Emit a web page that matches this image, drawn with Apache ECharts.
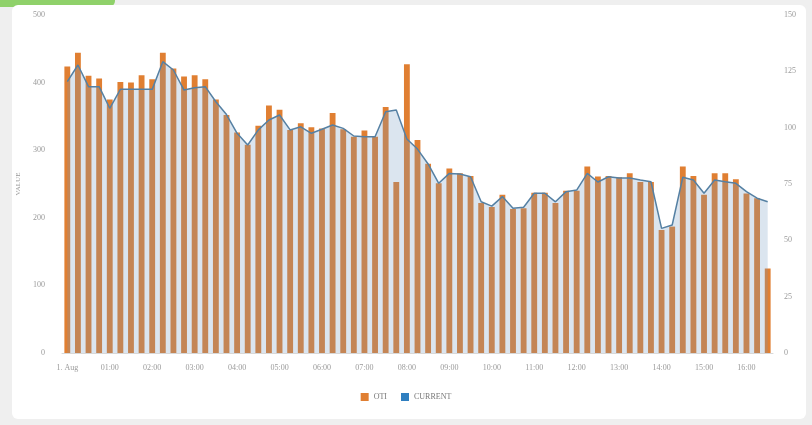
<!DOCTYPE html>
<html>
<head>
    <meta charset="utf-8" />
    <title>OTI / CURRENT</title>
    <script type="text/javascript" src="https://cdn.jsdelivr.net/npm/echarts@6/dist/echarts.min.js"></script>
    <style>
        html, body { margin: 0; padding: 0; background: #efefef; }
    </style>
</head>
<body>
<div id="main" style="width: 812px;height:425px;"></div>
<script type="text/javascript">
    // 15 minute readings, 1. Aug 00:00 - 16:30
    var times = [
        '00:00','00:15','00:30','00:45','01:00','01:15','01:30','01:45',
        '02:00','02:15','02:30','02:45','03:00','03:15','03:30','03:45',
        '04:00','04:15','04:30','04:45','05:00','05:15','05:30','05:45',
        '06:00','06:15','06:30','06:45','07:00','07:15','07:30','07:45',
        '08:00','08:15','08:30','08:45','09:00','09:15','09:30','09:45',
        '10:00','10:15','10:30','10:45','11:00','11:15','11:30','11:45',
        '12:00','12:15','12:30','12:45','13:00','13:15','13:30','13:45',
        '14:00','14:15','14:30','14:45','15:00','15:15','15:30','15:45',
        '16:00','16:15','16:30'
    ];
    // OTI bars (left axis)
    var otiValues = [
        424, 444, 410, 406, 375, 401, 400, 411, 405, 444,
        421, 409, 411, 405, 375, 352, 326, 308, 336, 366,
        360, 330, 340, 334, 332, 355, 331, 320, 329, 320,
        364, 253, 427, 315, 280, 251, 273, 266, 262, 222,
        216, 234, 213, 214, 237, 237, 222, 240, 240, 276,
        261, 262, 260, 266, 253, 253, 182, 187, 276, 262,
        234, 266, 266, 257, 236, 229, 125
    ];
    // CURRENT line (right axis)
    var currentValues = [
        120.4, 127.8, 118.2, 118.2, 108.6, 117.0, 117.0, 117.0, 117.0, 129.3,
        125.6, 116.7, 117.7, 118.2, 111.5, 105.8, 97.5, 92.3, 99.0, 103.4,
        105.6, 99.0, 100.4, 97.5, 99.3, 101.2, 99.7, 96.3, 96.0, 96.0,
        107.1, 107.8, 95.0, 90.5, 83.9, 75.3, 79.7, 79.4, 78.2, 67.1,
        65.2, 69.4, 64.2, 64.7, 70.9, 70.9, 67.1, 71.6, 72.3, 79.7,
        75.9, 78.2, 77.7, 77.7, 76.8, 76.0, 55.3, 56.8, 78.0, 76.8,
        70.9, 76.8, 76.0, 75.3, 71.6, 68.7, 67.1
    ];
    var leftTicks = [0, 100, 200, 300, 400, 500];
    var rightTicks = [0, 25, 50, 75, 100, 125, 150];

    var labelFont = { color: '#9a9a9a', fontSize: 8, fontFamily: 'Liberation Serif' };

    var myChart = echarts.init(document.getElementById('main'));
    var option = {
        backgroundColor: '#efefef',
        animation: false,
        graphic: [
            {
                type: 'rect',
                shape: { x: 0, y: 0, width: 115, height: 7, r: [0, 0, 6, 0] },
                style: { fill: '#8fd16a' },
                z: -2
            },
            {
                type: 'rect',
                shape: { x: 12, y: 5, width: 794, height: 414, r: 6 },
                style: { fill: '#ffffff' },
                z: -1
            }
        ],
        grid: { left: 62, right: 39, top: 15, bottom: 72 },
        legend: {
            bottom: 19,
            left: 'center',
            itemWidth: 8,
            itemHeight: 8,
            itemGap: 14,
            icon: 'rect',
            textStyle: { color: '#777', fontSize: 8, fontFamily: 'Liberation Serif' },
            data: ['OTI', 'CURRENT']
        },
        xAxis: {
            type: 'category',
            data: times,
            axisLine: { lineStyle: { color: '#d8d8d8' } },
            axisTick: { show: false },
            axisLabel: Object.assign({
                interval: 3,
                margin: 11,
                formatter: function (v) { return v === '00:00' ? '1. Aug' : v; }
            }, labelFont)
        },
        yAxis: [
            {
                type: 'value',
                name: 'VALUE',
                nameLocation: 'middle',
                nameGap: 38,
                nameTextStyle: { color: '#999', fontSize: 7, fontFamily: 'Liberation Serif' },
                min: leftTicks[0],
                max: leftTicks[leftTicks.length - 1],
                interval: 100,
                axisLine: { show: false },
                axisTick: { show: false },
                splitLine: { show: false },
                axisLabel: Object.assign({ margin: 17 }, labelFont)
            },
            {
                type: 'value',
                min: rightTicks[0],
                max: rightTicks[rightTicks.length - 1],
                interval: 25,
                axisLine: { show: false },
                axisTick: { show: false },
                splitLine: { show: false },
                axisLabel: Object.assign({ margin: 11 }, labelFont)
            }
        ],
        series: [
            {
                name: 'OTI',
                type: 'bar',
                yAxisIndex: 0,
                barWidth: '55%',
                itemStyle: { color: '#e07f32' },
                data: otiValues
            },
            {
                name: 'CURRENT',
                type: 'line',
                yAxisIndex: 1,
                showSymbol: false,
                symbol: 'none',
                itemStyle: { color: '#2f7fc0' },
                lineStyle: { color: '#5580a3', width: 1.5 },
                areaStyle: { color: 'rgba(110,150,190,0.36)' },
                data: currentValues
            }
        ]
    };
    myChart.setOption(option);
</script>
</body>
</html>
